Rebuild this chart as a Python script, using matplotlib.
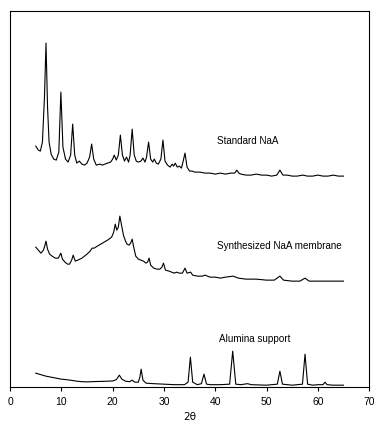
import matplotlib
matplotlib.use("Agg")
from matplotlib import pyplot as plt

# XRD patterns (2theta, intensity in arbitrary units)
std_x = [5.0, 5.5, 5.9, 6.3, 6.7, 7.0, 7.3, 7.6, 8.0, 8.5, 9.0, 9.5, 9.9, 10.3, 10.8,
         11.3, 11.8, 12.2, 12.6, 13.0, 13.5, 14.0, 14.5, 15.0, 15.5, 15.9, 16.3, 16.8,
         17.5, 18.0, 18.5, 19.0, 19.6, 20.0, 20.3, 20.7, 21.1, 21.5, 21.9, 22.3, 22.7,
         23.1, 23.4, 23.8, 24.2, 24.6, 25.0, 25.5, 25.9, 26.3, 26.6, 27.0, 27.4, 27.8,
         28.1, 28.5, 28.9, 29.4, 29.8, 30.2, 30.7, 31.2, 31.6, 31.9, 32.2, 32.6, 33.0,
         33.4, 33.7, 34.1, 34.5, 35.0, 35.5, 36, 37, 38, 39, 40, 41, 42, 43, 43.8, 44.2,
         44.6, 45, 46, 47, 48, 49, 50, 51, 52, 52.6, 53.2, 54, 55, 56, 57, 58, 59, 60,
         61, 62, 63, 64, 65]
std_y = [241, 237, 236, 245, 290, 344, 280, 245, 233, 228, 227, 235, 295, 240, 228,
         225, 232, 263, 232, 224, 226, 223, 222, 224, 230, 243, 228, 222,
         223, 222, 223, 224, 225, 228, 232, 227, 232, 252, 232, 226, 230,
         225, 232, 258, 232, 226, 225, 226, 229, 225, 230, 245, 228, 225,
         228, 224, 223, 228, 247, 226, 222, 220, 223, 221, 224, 220, 221,
         219, 225, 234, 220, 216, 216, 215, 215, 214, 214, 213, 214, 213, 214, 214, 217,
         214, 213, 212, 212, 213, 212, 212, 211, 212, 217, 212, 212, 211, 211, 212, 211, 211, 212,
         211, 211, 212, 211, 211]

mem_x = [5.0, 5.5, 6.0, 6.5, 6.8, 7.0, 7.3, 7.7, 8.2, 8.8, 9.4, 9.7, 9.9, 10.2, 10.7,
         11.2, 11.6, 12.0, 12.3, 12.7, 13.2, 14.0, 15.0, 15.6, 16.0, 16.4, 17.0, 18.0,
         19.0, 19.8, 20.2, 20.5, 20.8, 21.1, 21.4, 21.8, 22.1, 22.5, 22.8, 23.2, 23.5,
         23.8, 24.1, 24.5, 25.0, 25.5, 26.0, 26.5, 26.8, 27.1, 27.4, 28.0, 28.6, 29.2,
         29.6, 29.9, 30.3, 31.0, 32.0, 32.5, 33.0, 33.6, 34.1, 34.5, 35.2, 35.6, 36.5,
         37.5, 38.0, 39.0, 40.0, 41.0, 42.0, 43.5, 44.5, 46, 48, 50, 51.5, 52.6, 53.3,
         55, 56.5, 57.5, 58.3, 60, 62, 65]
mem_y = [140, 137, 134, 137, 142, 146, 138, 133, 131, 129, 129, 132, 134, 128, 125,
         123, 123, 127, 132, 126, 127, 129, 133, 136, 139, 139, 141, 144,
         147, 150, 155, 163, 157, 160, 171, 160, 152, 146, 143, 142, 144,
         148, 140, 131, 128, 127, 126, 124, 125, 129, 122, 119, 118, 118,
         120, 124, 117, 116, 114, 115, 114, 114, 119, 114, 115, 112, 111,
         111, 112, 110, 110, 109, 110, 111, 109, 108, 108, 107, 107, 111, 107,
         106, 106, 109, 106, 106, 106, 106]

alu_x = [5.0, 6, 7, 8, 9, 10, 11, 12, 13, 14, 15, 16, 17, 18, 19, 20, 20.7, 21.3,
         21.8, 22.5, 23.3, 23.8, 24.3, 25.0, 25.3, 25.55, 25.9, 26.5, 28, 30, 32, 34,
         34.7, 35.15, 35.6, 36.5, 37.3, 37.8, 38.3, 39, 41, 42.8, 43.4, 44.0, 45, 46.3,
         47, 50, 52.1, 52.6, 53.1, 55, 57.0, 57.5, 58.0, 59, 60, 61.0, 61.4, 61.8, 63, 65]
alu_y = [14, 12.5, 11, 10, 9, 8, 7.5, 6.8, 6, 5.5, 5.3, 5.5, 5.7, 5.8, 6, 6.2, 7.5, 12,
         8, 6, 5.5, 7, 5, 5, 10, 18, 7, 4, 3.5, 3, 2.5, 2.5,
         5, 30, 5, 2.5, 3.5, 13, 3, 2.5, 2.5, 3, 36, 3, 2.5, 3.5,
         2.5, 2, 3, 16, 3, 2, 3, 33, 3, 2, 2.5, 2.5, 5, 2.5, 2, 2]

labels = ["Standard NaA", "Synthesized NaA membrane", "Alumina support"]
label_pos = [(40.3, 246), (40.3, 141), (40.8, 48)]

fig = plt.figure(figsize=(3.74, 4.25), dpi=100)
ax = fig.add_axes([0.027, 0.089, 0.96, 0.885])

for xs, ys in [(std_x, std_y), (mem_x, mem_y), (alu_x, alu_y)]:
    ax.plot(xs, ys, c='black', lw=0.8)

for txt, (tx, ty) in zip(labels, label_pos):
    ax.text(tx, ty, txt, fontsize=7.1, fontfamily='Liberation Sans', va='center', ha='left')

ax.set_xlim(0, 70)
ax.set_ylim(0, 376)
ax.set_yticks([])
ax.set_xticks(range(0, 71, 10))
ax.tick_params(axis='x', direction='out', length=3, width=0.8, labelsize=7.5, pad=4)
for lab in ax.get_xticklabels():
    lab.set_fontfamily('Liberation Sans')
for sp in ax.spines.values():
    sp.set_linewidth(0.8)
ax.set_xlabel('2θ', fontsize=7.5, fontfamily='DejaVu Sans', labelpad=4)

fig.savefig('out.png', dpi=100)
